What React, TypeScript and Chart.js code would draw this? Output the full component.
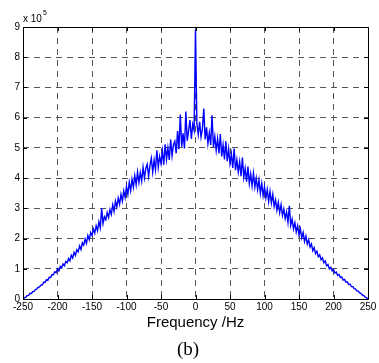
import React, { useEffect, useRef } from "react";
import { Chart, registerables } from "chart.js";

Chart.register(...registerables);

// Frequency axis: -250 Hz .. 250 Hz, sampled every 2 Hz
const freqStart = -250;
const freqStep = 2;

// Spectrum magnitude (units of 1e5)
const leftHalf = [
  0.00, 0.04, 0.06, 0.11, 0.12,
  0.18, 0.18, 0.24, 0.25, 0.31,
  0.33, 0.39, 0.40, 0.46, 0.47,
  0.56, 0.55, 0.64, 0.62, 0.72,
  0.71, 0.80, 0.80, 0.90, 0.87,
  1.00, 0.93, 1.08, 1.03, 1.16,
  1.10, 1.24, 1.20, 1.34, 1.26,
  1.45, 1.36, 1.54, 1.44, 1.63,
  1.56, 1.76, 1.64, 1.86, 1.78,
  1.98, 1.84, 2.10, 1.96, 2.20,
  2.10, 2.32, 2.18, 2.42, 2.26,
  2.56, 2.36, 3.00, 2.50, 2.72,
  2.62, 2.86, 2.70, 2.96, 2.80,
  3.12, 2.90, 3.24, 3.04, 3.34,
  3.14, 3.46, 3.24, 3.58, 3.36,
  3.72, 3.46, 3.86, 3.58, 3.96,
  3.70, 4.08, 3.78, 4.20, 3.86,
  4.18, 3.90, 4.36, 4.00, 4.32,
  4.46, 4.06, 4.42, 4.66, 4.20,
  4.60, 4.28, 4.92, 4.36, 4.72,
  4.48, 4.90, 4.44, 5.12, 4.62,
  5.00, 4.60, 5.28, 4.74, 5.10,
  5.22, 4.82, 5.56, 4.96, 6.10,
  5.04, 5.48, 4.98, 6.20, 5.24,
  5.56, 5.92, 5.30, 5.78, 5.58,
];
const centerPeak = [8.92];
const rightHalf = [
  5.80, 5.44, 5.86, 5.36, 5.62,
  6.30, 5.28, 5.68, 5.14, 5.50,
  5.10, 6.08, 5.02, 5.38, 4.92,
  5.30, 4.82, 5.46, 4.72, 5.10,
  4.62, 5.22, 4.56, 4.96, 4.48,
  4.80, 4.34, 4.98, 4.26, 4.60,
  4.20, 4.54, 4.06, 4.68, 4.02,
  4.32, 3.88, 4.38, 3.82, 4.14,
  3.74, 4.16, 3.70, 4.00, 3.62,
  3.94, 3.50, 3.82, 3.42, 3.72,
  3.34, 3.62, 3.22, 3.56, 3.18,
  3.46, 3.06, 3.28, 2.94, 3.20,
  2.86, 3.12, 2.76, 2.98, 2.66,
  2.88, 2.54, 3.08, 2.44, 2.64,
  2.32, 2.52, 2.22, 2.42, 2.12,
  2.32, 2.02, 2.20, 1.90, 2.08,
  1.82, 1.96, 1.72, 1.82, 1.60,
  1.70, 1.50, 1.58, 1.40, 1.46,
  1.30, 1.36, 1.20, 1.26, 1.10,
  1.14, 1.00, 1.05, 0.93, 0.98,
  0.86, 0.89, 0.78, 0.81, 0.71,
  0.73, 0.63, 0.65, 0.56, 0.57,
  0.48, 0.49, 0.41, 0.41, 0.34,
  0.33, 0.27, 0.26, 0.20, 0.18,
  0.13, 0.11, 0.06, 0.04, 0.00,
];
const magnitude = [...leftHalf, ...centerPeak, ...rightHalf];
const frequencies = magnitude.map((_, i) => freqStart + i * freqStep);

const xTicks = [-250, -200, -150, -100, -50, 0, 50, 100, 150, 200, 250];
const yTicks = [0, 1, 2, 3, 4, 5, 6, 7, 8, 9];

const xLabel = "Frequency /Hz";
const caption = "(b)";
const exponentBase = "x 10";
const exponent = "5";

const W = 379;
const H = 363;

const decorPlugin = {
  id: "decor",
  afterDatasetsDraw(chart: any) {
    const { ctx, chartArea: a, scales } = chart;
    ctx.save();
    ctx.strokeStyle = "#000";
    ctx.lineWidth = 1;
    ctx.setLineDash([]);
    ctx.beginPath();
    for (const v of xTicks) {
      const x = Math.round(scales.x.getPixelForValue(v)) + 0.5;
      ctx.moveTo(x, a.bottom);
      ctx.lineTo(x, a.bottom - 4);
      ctx.moveTo(x, a.top);
      ctx.lineTo(x, a.top + 4);
    }
    for (const v of yTicks) {
      const y = Math.round(scales.y.getPixelForValue(v)) + 0.5;
      ctx.moveTo(a.left, y);
      ctx.lineTo(a.left + 4, y);
      ctx.moveTo(a.right, y);
      ctx.lineTo(a.right - 4, y);
    }
    ctx.stroke();
    ctx.strokeRect(
      Math.round(a.left) + 0.5,
      Math.round(a.top) + 0.5,
      Math.round(a.right - a.left),
      Math.round(a.bottom - a.top)
    );

    ctx.fillStyle = "#000";
    ctx.textAlign = "left";
    ctx.textBaseline = "alphabetic";
    ctx.font = '10px "Liberation Sans", Arial, sans-serif';
    ctx.fillText(exponentBase, a.left, a.top - 5);
    const w = ctx.measureText(exponentBase).width;
    ctx.font = '7px "Liberation Sans", Arial, sans-serif';
    ctx.fillText(exponent, a.left + w + 1, a.top - 12);

    ctx.textAlign = "center";
    ctx.font = '15px "Liberation Sans", Arial, sans-serif';
    ctx.fillText(xLabel, (a.left + a.right) / 2, 327);
    ctx.font = '19px "Liberation Serif", "Times New Roman", serif';
    ctx.fillText(caption, 188, 355);
    ctx.restore();
  },
};

export default function App() {
  const ref = useRef<HTMLCanvasElement | null>(null);

  useEffect(() => {
    document.body.style.margin = "0";
    const canvas = ref.current;
    if (!canvas) return;
    const chart = new Chart(canvas, {
      type: "line",
      data: {
        datasets: [
          {
            data: frequencies.map((f, i) => ({ x: f, y: magnitude[i] })),
            borderColor: "#0000ff",
            borderWidth: 1.4,
            pointRadius: 0,
            tension: 0,
            fill: false,
          },
        ],
      },
      options: {
        responsive: false,
        animation: false,
        devicePixelRatio: 1,
        layout: { padding: { left: 0, right: 11, top: 27, bottom: 0 } },
        plugins: {
          legend: { display: false },
          tooltip: { enabled: false },
          title: { display: false },
        },
        scales: {
          x: {
            type: "linear",
            min: -250,
            max: 250,
            afterBuildTicks: (s: any) => {
              s.ticks = xTicks.map((v) => ({ value: v }));
            },
            afterFit: (s: any) => {
              s.height = H - 299;
            },
            ticks: {
              color: "#000",
              padding: 2,
              maxRotation: 0,
              autoSkip: false,
              font: { family: '"Liberation Sans", Arial, sans-serif', size: 10 },
            },
            grid: {
              color: "#555",
              lineWidth: 1,
              drawTicks: false,
            },
            border: { display: false, dash: [6, 5] },
          },
          y: {
            type: "linear",
            min: 0,
            max: 9,
            afterBuildTicks: (s: any) => {
              s.ticks = yTicks.map((v) => ({ value: v }));
            },
            afterFit: (s: any) => {
              s.width = 23;
            },
            ticks: {
              color: "#000",
              padding: 3,
              autoSkip: false,
              font: { family: '"Liberation Sans", Arial, sans-serif', size: 10 },
            },
            grid: {
              color: "#555",
              lineWidth: 1,
              drawTicks: false,
            },
            border: { display: false, dash: [6, 5] },
          },
        },
      },
      plugins: [decorPlugin],
    });
    return () => chart.destroy();
  }, []);

  return (
    <div style={{ width: W, height: H, background: "#fff" }}>
      <canvas ref={ref} width={W} height={H} style={{ display: "block" }} />
    </div>
  );
}
